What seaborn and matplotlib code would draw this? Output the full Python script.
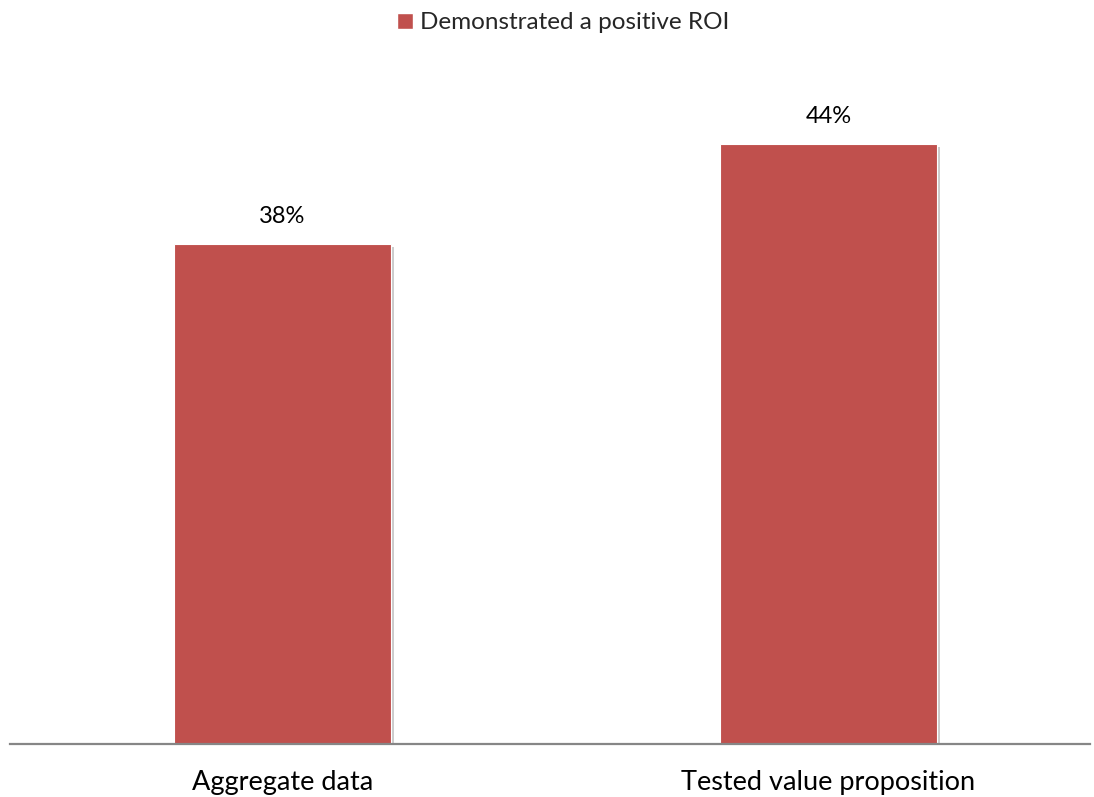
"""
Bar chart: share of cases that demonstrated a positive ROI.
Saves the figure to out.png.
"""

import matplotlib
matplotlib.use("Agg")
import matplotlib.pyplot as plt
import matplotlib.patheffects as pe
from matplotlib.patches import Patch
import pandas as pd
import seaborn as sns

CATEGORIES = ["Aggregate data", "Tested value proposition"]
VALUES = [38, 44]
SERIES_NAME = "Demonstrated a positive ROI"
BAR_COLOR = "#C0504D"


def main():
    sns.set_style("white")
    plt.rcParams["font.family"] = ["Lato", "DejaVu Sans"]

    df = pd.DataFrame({"category": CATEGORIES, "value": VALUES})

    fig = plt.figure(figsize=(10.94, 7.97), dpi=100)
    ax = fig.add_axes([10 / 1094, 53 / 797, 1080 / 1094, 700 / 797])

    sns.barplot(data=df, x="category", y="value", color=BAR_COLOR,
                saturation=1, width=0.397, ax=ax,
                edgecolor="white", linewidth=0.8)

    # soft drop shadow like the office chart
    for bar in ax.patches:
        bar.set_path_effects([
            pe.SimplePatchShadow(offset=(2, -2), shadow_rgbFace="#9a9a9a", alpha=0.5),
            pe.Normal(),
        ])

    # value labels above bars
    for bar, v in zip(ax.patches, VALUES):
        ax.annotate(f"{v}%", (bar.get_x() + bar.get_width() / 2, bar.get_height()),
                    xytext=(0, 12), textcoords="offset points",
                    ha="center", va="bottom", fontsize=17, color="black")

    ax.set_xlim(-0.499, 1.479)
    ax.set_ylim(8, 50)
    ax.set_xlabel("")
    ax.set_ylabel("")
    ax.set_yticks([])
    ax.tick_params(axis="x", length=0, pad=19, labelsize=19.5, colors="black")

    for side in ["top", "right", "left"]:
        ax.spines[side].set_visible(False)
    ax.spines["bottom"].set_color("#868686")
    ax.spines["bottom"].set_linewidth(1.6)

    handle = Patch(facecolor=BAR_COLOR, edgecolor="white", label=SERIES_NAME)
    fig.legend(handles=[handle], loc="upper center", bbox_to_anchor=(0.515, 1.012),
               frameon=False, fontsize=17.5, handlelength=0.65, handleheight=0.65,
               handletextpad=0.3)

    fig.savefig("out.png", dpi=100)
    plt.close(fig)


if __name__ == "__main__":
    main()
